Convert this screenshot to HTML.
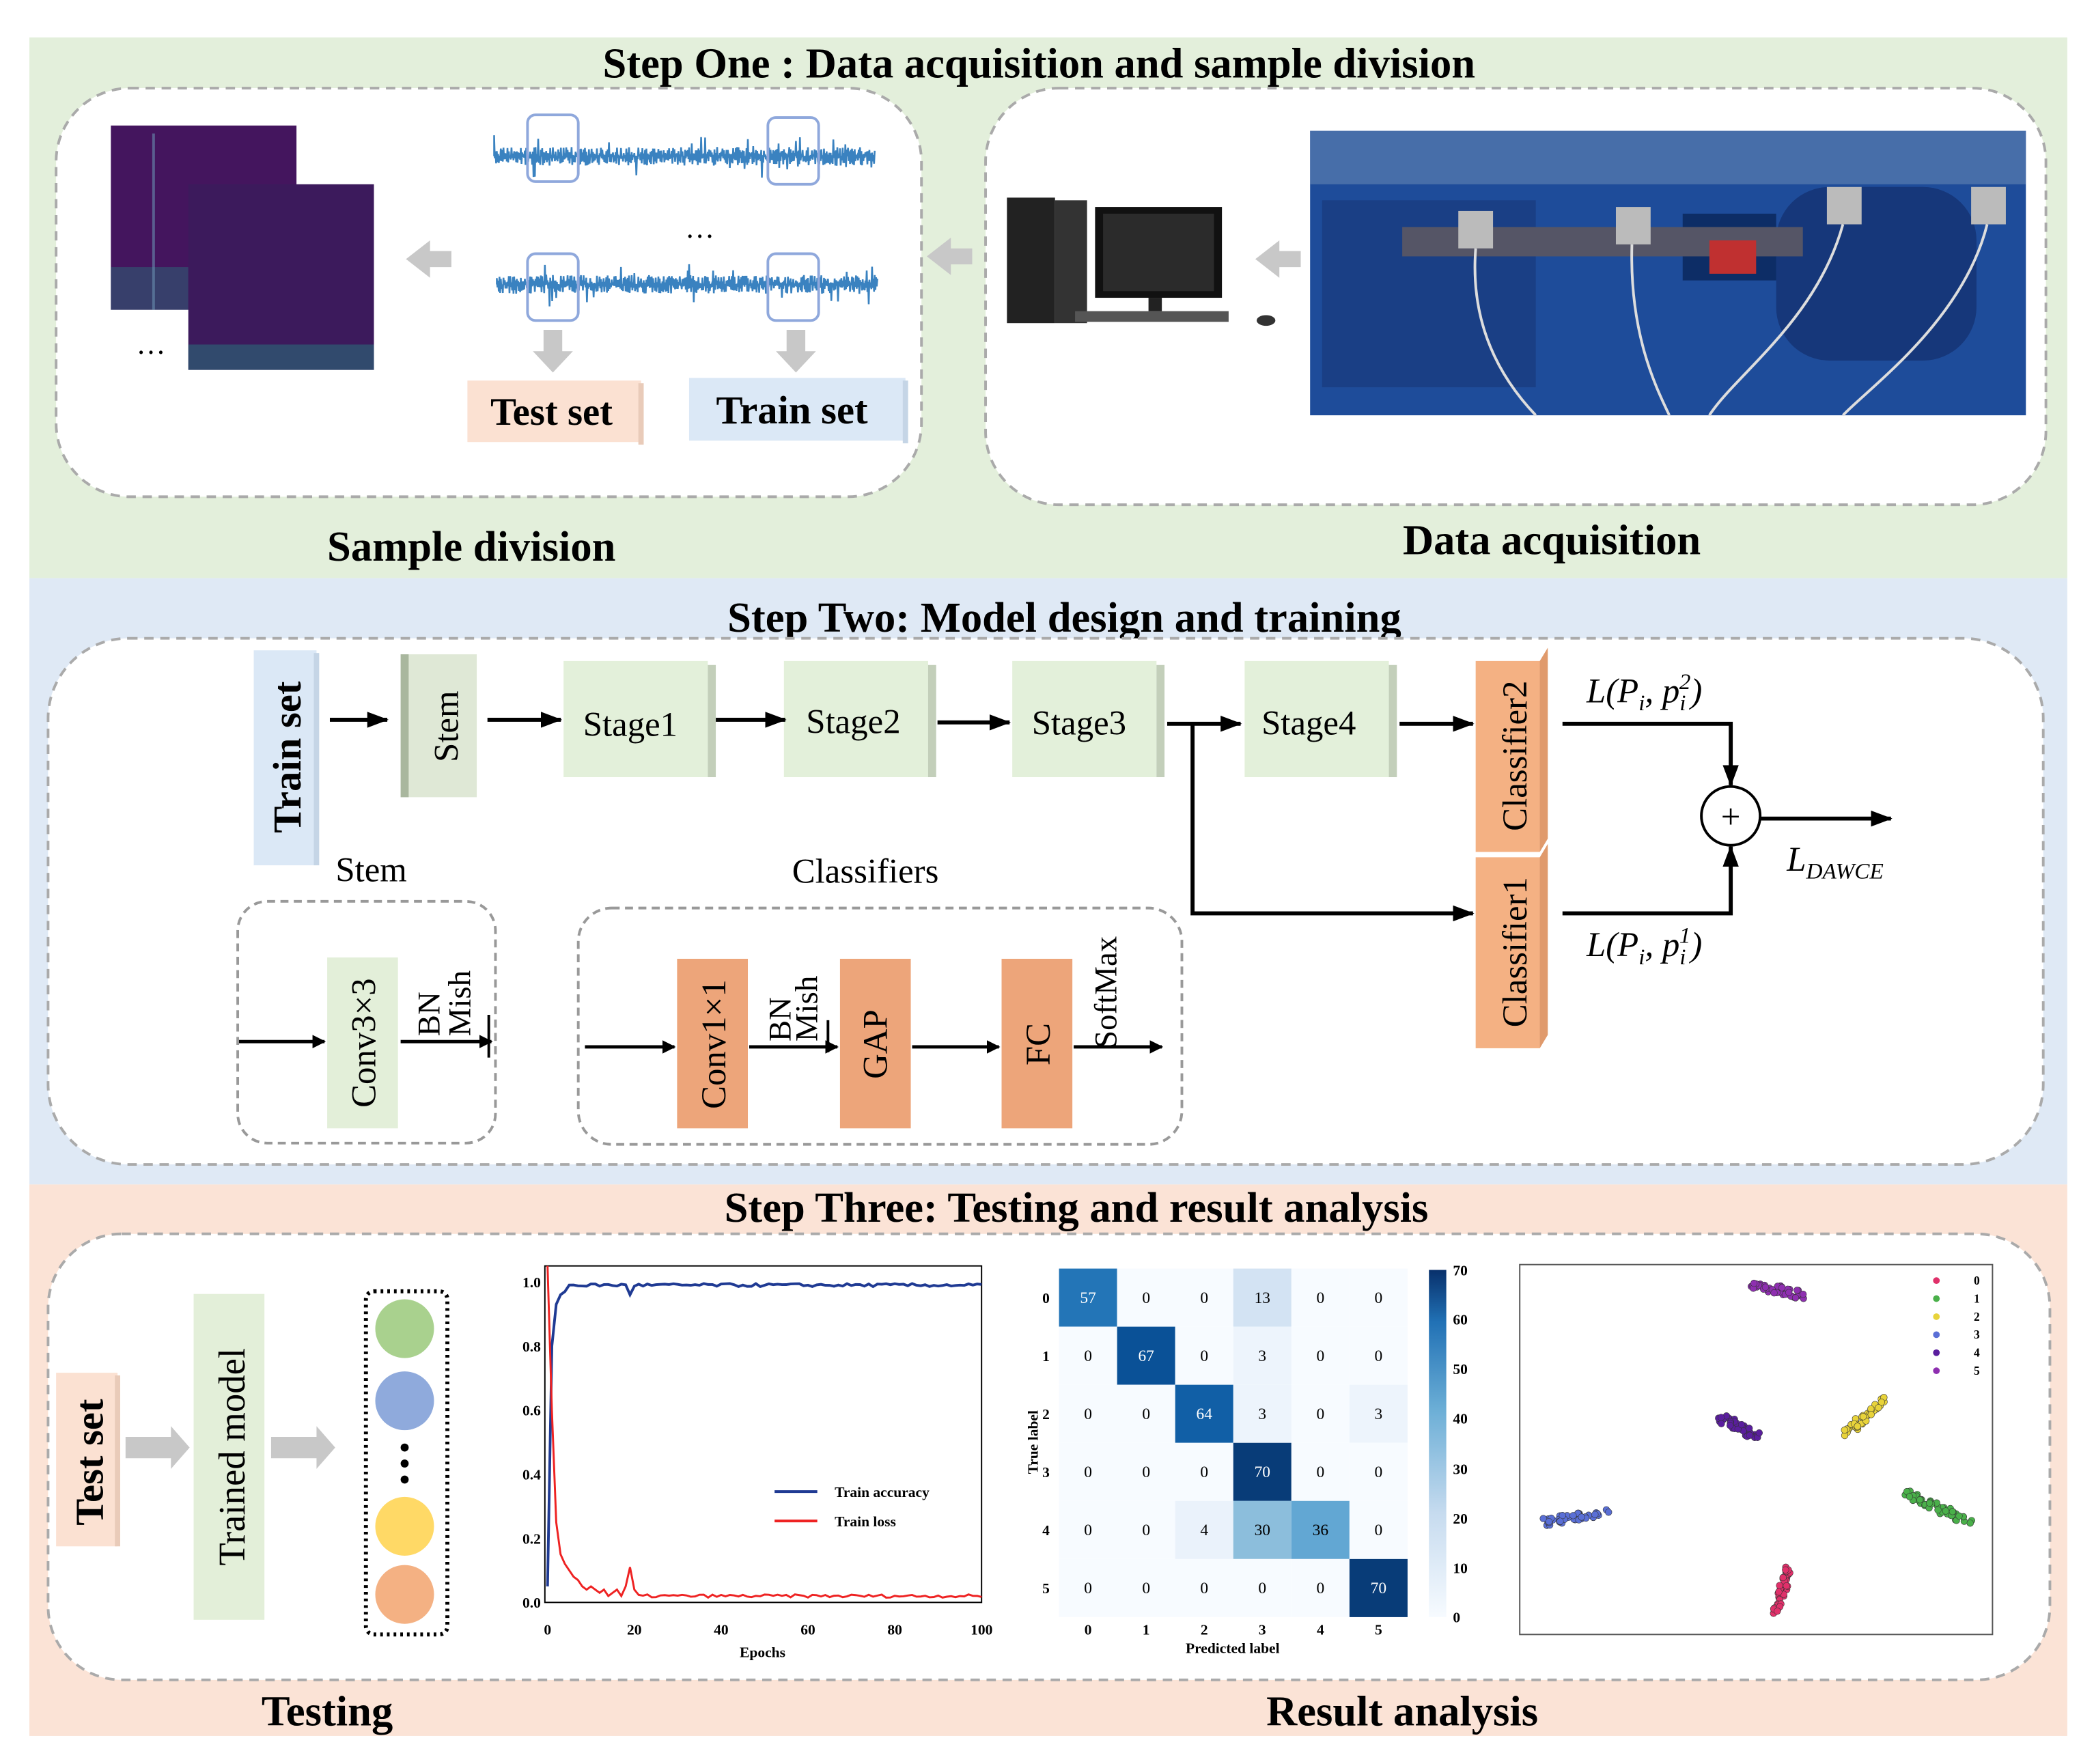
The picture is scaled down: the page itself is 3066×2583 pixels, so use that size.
<!DOCTYPE html>
<html><head><meta charset="utf-8"><style>
html,body{margin:0;padding:0;background:#fff;width:3066px;height:2583px;overflow:hidden}
svg{display:block}
text{font-family:"Liberation Serif",serif}
.t{font-weight:bold;font-size:32px;text-anchor:middle}
.m{font-size:26px;text-anchor:middle}
.s{font-family:"Liberation Serif",serif;font-size:11px;font-weight:bold}
</style></head><body>
<svg id="s" width="3066" height="2583" viewBox="0 0 1568 1321" xmlns="http://www.w3.org/2000/svg">
<defs>
<marker id="a" markerWidth="10" markerHeight="10" refX="9" refY="5" orient="auto" markerUnits="userSpaceOnUse"><path d="M0,0 L10,5 L0,10 z" fill="#000"/></marker>
<marker id="a2" markerWidth="16" markerHeight="12" refX="15" refY="6" orient="auto" markerUnits="userSpaceOnUse"><path d="M0,0 L16,6 L0,12 z" fill="#000"/></marker>
</defs>
<rect x="22" y="28" width="1526" height="405" fill="#e3efdb"/>
<rect x="22" y="433" width="1526" height="454" fill="#dfe9f5"/>
<rect x="22" y="887" width="1526" height="413" fill="#fbe3d6"/>

<text class="t" x="778" y="58">Step One : Data acquisition and sample division</text>
<rect x="42" y="66" width="648" height="306" rx="55" fill="#fff" stroke="#aaa" stroke-width="2" stroke-dasharray="7,5"/>
<rect x="738" y="66" width="794" height="312" rx="55" fill="#fff" stroke="#aaa" stroke-width="2" stroke-dasharray="7,5"/>
<text class="t" x="353" y="420">Sample division</text>
<text class="t" x="1162" y="415">Data acquisition</text>

<rect x="83" y="94" width="139" height="138" fill="#44155e"/>
<rect x="83" y="200" width="58" height="32" fill="#2a6a78" opacity=".5"/>
<line x1="115" y1="100" x2="115" y2="232" stroke="#6a8fb0" stroke-width="2" opacity=".6"/>
<rect x="141" y="138" width="139" height="139" fill="#3c1a5c"/>
<rect x="141" y="258" width="139" height="19" fill="#2a6a78" opacity=".6"/>
<text x="113" y="265" font-size="22" text-anchor="middle">…</text>
<path d="M304,194 l18,-14 v8 h16 v12 h-16 v8 z" fill="#c8c8c8"/>
<path d="M694,192 l18,-14 v8 h16 v12 h-16 v8 z" fill="#c8c8c8"/>
<path d="M940,194 l18,-14 v8 h16 v12 h-16 v8 z" fill="#c8c8c8"/>

<g id="w1"></g>
<rect x="395" y="86" width="38" height="50" rx="6" fill="none" stroke="#8fa8dc" stroke-width="2"/>
<rect x="575" y="88" width="38" height="50" rx="6" fill="none" stroke="#8fa8dc" stroke-width="2"/>
<text x="524" y="178" font-size="22" text-anchor="middle">…</text>
<rect x="395" y="190" width="38" height="50" rx="6" fill="none" stroke="#8fa8dc" stroke-width="2"/>
<rect x="575" y="190" width="38" height="50" rx="6" fill="none" stroke="#8fa8dc" stroke-width="2"/>
<path d="M407,247 h14 v16 h8 l-15,16 l-15,-16 h8 z" fill="#c8c8c8"/>
<path d="M589,247 h14 v16 h8 l-15,16 l-15,-16 h8 z" fill="#c8c8c8"/>
<rect x="350" y="285" width="130" height="46" fill="#fbe1d2"/><rect x="478" y="287" width="4" height="46" fill="#e9cbb9"/>
<text x="413" y="318" font-size="29" font-weight="bold" text-anchor="middle">Test set</text>
<rect x="516" y="283" width="162" height="47" fill="#dbe8f6"/><rect x="676" y="285" width="4" height="47" fill="#c5d5e6"/>
<text x="593" y="317" font-size="30" font-weight="bold" text-anchor="middle">Train set</text>

<rect x="754" y="148" width="36" height="94" fill="#222"/><rect x="790" y="150" width="24" height="92" fill="#333"/>
<rect x="820" y="155" width="95" height="68" fill="#111"/><rect x="826" y="160" width="83" height="58" fill="#2b2b2b"/>
<rect x="860" y="223" width="10" height="10" fill="#222"/><rect x="805" y="233" width="115" height="8" fill="#555"/>
<ellipse cx="948" cy="240" rx="7" ry="4" fill="#333"/>
<rect x="981" y="98" width="536" height="213" fill="#1e4c9a"/>
<rect x="981" y="98" width="536" height="40" fill="#6f8fb8" opacity=".5"/>
<rect x="990" y="150" width="160" height="140" fill="#1a3f85"/>
<rect x="1330" y="140" width="150" height="130" rx="40" fill="#16377a"/>
<rect x="1260" y="160" width="70" height="50" fill="#0d2d66"/>
<rect x="1050" y="170" width="300" height="22" fill="#556"/>
<rect x="1092" y="158" width="26" height="28" fill="#bbb"/><rect x="1210" y="155" width="26" height="28" fill="#bbb"/>
<rect x="1368" y="140" width="26" height="28" fill="#bbb"/><rect x="1476" y="140" width="26" height="28" fill="#bbb"/>
<rect x="1280" y="180" width="35" height="25" fill="#c03030"/>
<path d="M1105,186 C1100,250 1130,290 1150,311 M1222,183 C1220,250 1240,290 1250,311 M1380,168 C1360,240 1300,280 1280,311 M1488,168 C1470,240 1400,290 1380,311" stroke="#ddd" stroke-width="2" fill="none"/>

<text class="t" x="797" y="473">Step Two: Model design and training</text>
<rect x="36" y="478" width="1494" height="394" rx="60" fill="#fff" stroke="#aaa" stroke-width="2" stroke-dasharray="7,5"/>
<rect x="190" y="487" width="47" height="161" fill="#dbe8f6"/><rect x="235" y="489" width="4" height="159" fill="#c5d5e6"/>
<text transform="translate(225,567) rotate(-90)" font-size="30" font-weight="bold" text-anchor="middle">Train set</text>
<rect x="300" y="490" width="57" height="107" fill="#dfe8d6"/><rect x="300" y="490" width="6" height="107" fill="#a9b79e"/>
<text transform="translate(343,544) rotate(-90)" class="m">Stem</text>
<g fill="#e3f0da">
<rect x="422" y="495" width="108" height="87"/><rect x="587" y="495" width="108" height="87"/><rect x="758" y="495" width="108" height="87"/><rect x="932" y="495" width="108" height="87"/></g>
<g fill="#c3cfba"><rect x="530" y="498" width="6" height="84"/><rect x="695" y="498" width="6" height="84"/><rect x="866" y="498" width="6" height="84"/><rect x="1040" y="498" width="6" height="84"/></g>
<text class="m" x="472" y="551">Stage1</text><text class="m" x="639" y="549">Stage2</text><text class="m" x="808" y="550">Stage3</text><text class="m" x="980" y="550">Stage4</text>
<rect x="1105" y="495" width="48" height="143" fill="#f4b183"/><path d="M1153,495 l6,-10 v143 l-6,10z" fill="#e09a6c"/>
<rect x="1105" y="642" width="48" height="143" fill="#f4b183"/><path d="M1153,642 l6,-10 v143 l-6,10z" fill="#e09a6c"/>
<text transform="translate(1143,566) rotate(-90)" class="m">Classifier2</text>
<text transform="translate(1143,713) rotate(-90)" class="m">Classifier1</text>
<g stroke="#000" stroke-width="3" fill="none" marker-end="url(#a2)">
<line x1="247" y1="539" x2="290" y2="539"/><line x1="365" y1="539" x2="420" y2="539"/><line x1="536" y1="539" x2="588" y2="539"/>
<line x1="702" y1="541" x2="756" y2="541"/><line x1="874" y1="542" x2="929" y2="542"/><line x1="1048" y1="542" x2="1103" y2="542"/>
<polyline points="893,542 893,684 1103,684"/>
<polyline points="1170,542 1296,542 1296,588"/><polyline points="1170,684 1296,684 1296,634"/>
<line x1="1318" y1="613" x2="1416" y2="613"/>
</g>
<circle cx="1296" cy="611" r="22" fill="#fff" stroke="#000" stroke-width="2"/>
<text x="1296" y="620" font-size="26" text-anchor="middle">+</text>
<text x="1188" y="526" font-size="26" font-style="italic">L(P<tspan font-size="17" dy="6">i</tspan><tspan dy="-6">, p</tspan><tspan font-size="17" dy="6">i</tspan><tspan font-size="17" dy="-16" dx="-5">2</tspan><tspan dy="10">)</tspan></text>
<text x="1188" y="716" font-size="26" font-style="italic">L(P<tspan font-size="17" dy="6">i</tspan><tspan dy="-6">, p</tspan><tspan font-size="17" dy="6">i</tspan><tspan font-size="17" dy="-16" dx="-5">1</tspan><tspan dy="10">)</tspan></text>
<text x="1338" y="652" font-size="26" font-style="italic">L<tspan font-size="17" dy="6">DAWCE</tspan></text>

<text class="m" x="278" y="660">Stem</text><text class="m" x="648" y="661">Classifiers</text>
<rect x="178" y="675" width="193" height="181" rx="22" fill="none" stroke="#999" stroke-width="2" stroke-dasharray="6,4"/>
<rect x="433" y="680" width="452" height="177" rx="25" fill="none" stroke="#999" stroke-width="2" stroke-dasharray="6,4"/>
<rect x="245" y="717" width="53" height="128" fill="#e3efd9"/>
<text transform="translate(281,781) rotate(-90)" class="m">Conv3×3</text>
<rect x="507" y="718" width="53" height="127" fill="#eda57a"/><rect x="629" y="718" width="53" height="127" fill="#eda57a"/><rect x="750" y="718" width="53" height="127" fill="#eda57a"/>
<text transform="translate(543,782) rotate(-90)" class="m">Conv1×1</text>
<text transform="translate(664,782) rotate(-90)" class="m">GAP</text>
<text transform="translate(786,782) rotate(-90)" class="m">FC</text>
<text transform="translate(329,776) rotate(-90)" font-size="24">BN</text>
<text transform="translate(352,776) rotate(-90)" font-size="24">Mish</text>
<text transform="translate(592,780) rotate(-90)" font-size="24">BN</text>
<text transform="translate(612,780) rotate(-90)" font-size="24">Mish</text>
<text transform="translate(836,785) rotate(-90)" font-size="24">SoftMax</text>
<g stroke="#000" stroke-width="2.5" marker-end="url(#a)">
<line x1="179" y1="780" x2="243" y2="780"/><line x1="300" y1="780" x2="368" y2="780"/>
<line x1="438" y1="784" x2="505" y2="784"/><line x1="561" y1="784" x2="627" y2="784"/><line x1="683" y1="784" x2="748" y2="784"/><line x1="804" y1="784" x2="870" y2="784"/></g>
<line x1="366" y1="760" x2="366" y2="792" stroke="#000" stroke-width="2"/>
<line x1="620" y1="764" x2="620" y2="788" stroke="#000" stroke-width="2"/>

<text class="t" x="806" y="915">Step Three: Testing and result analysis</text>
<rect x="36" y="924" width="1499" height="334" rx="55" fill="#fff" stroke="#aaa" stroke-width="2" stroke-dasharray="7,5"/>
<text class="t" x="245" y="1292">Testing</text><text class="t" x="1050" y="1292">Result analysis</text>
<rect x="42" y="1028" width="46" height="130" fill="#fbe1d2"/><rect x="86" y="1030" width="4" height="128" fill="#e9cbb9"/>
<text transform="translate(77,1095) rotate(-90)" font-size="30" font-weight="bold" text-anchor="middle">Test set</text>
<rect x="145" y="969" width="53" height="244" fill="#e3efd9"/>
<text transform="translate(183,1091) rotate(-90)" font-size="28" text-anchor="middle">Trained model</text>
<path d="M94,1076 h34 v-8 l14,16 l-14,16 v-8 h-34z" fill="#c8c8c8"/>
<path d="M203,1076 h34 v-8 l14,16 l-14,16 v-8 h-34z" fill="#c8c8c8"/>
<rect x="274" y="967" width="61" height="257" rx="6" fill="#fff" stroke="#000" stroke-width="3" stroke-dasharray="2,3"/>
<circle cx="303" cy="995" r="22" fill="#a9d18e"/><circle cx="303" cy="1049" r="22" fill="#8faadc"/>
<circle cx="303" cy="1143" r="22" fill="#ffd966"/><circle cx="303" cy="1194" r="22" fill="#f4b183"/>
<circle cx="303" cy="1084" r="3"/><circle cx="303" cy="1096" r="3"/><circle cx="303" cy="1108" r="3"/>

<rect x="408" y="948" width="327" height="252" fill="#fff" stroke="#000" stroke-width="1"/>
<g id="plot"></g>
<g class="s" id="pax"></g>
<text x="625" y="1121" class="s" font-size="12.5">Train accuracy</text><text x="625" y="1143" class="s" font-size="12.5">Train loss</text>
<line x1="580" y1="1117" x2="612" y2="1117" stroke="#1f3a93" stroke-width="2"/><line x1="580" y1="1139" x2="612" y2="1139" stroke="#e22" stroke-width="2"/>
<text x="571" y="1241" class="s" font-size="13" text-anchor="middle">Epochs</text>

<g id="cm"></g>
<text x="923" y="1238" class="s" text-anchor="middle">Predicted label</text>
<text transform="translate(777,1080) rotate(-90)" class="s" text-anchor="middle">True label</text>
<defs><linearGradient id="cb" x1="0" y1="1" x2="0" y2="0"><stop offset="0" stop-color="#f7fbff"/><stop offset=".3" stop-color="#c6dbef"/><stop offset=".6" stop-color="#6baed6"/><stop offset=".85" stop-color="#2171b5"/><stop offset="1" stop-color="#08306b"/></linearGradient></defs>
<rect x="1070" y="951" width="13" height="260" fill="url(#cb)"/>
<g class="s" font-weight="normal" font-size="10">
<text x="1088" y="955">70</text><text x="1088" y="992">60</text><text x="1088" y="1029">50</text><text x="1088" y="1066">40</text><text x="1088" y="1104">30</text><text x="1088" y="1141">20</text><text x="1088" y="1178">10</text><text x="1088" y="1215">0</text></g>

<rect x="1138" y="947" width="354" height="277" fill="#fff" stroke="#555" stroke-width="1"/>
<g id="ts"></g>
</svg>
<script>
var NS="http://www.w3.org/2000/svg";
function el(p,t,a){var e=document.createElementNS(NS,t);for(var k in a)e.setAttribute(k,a[k]);p.appendChild(e);return e;}
var seed=7;function r(){seed=(seed*16807)%2147483647;return seed/2147483647;}
var w=document.getElementById("w1");
[[117,370,655],[213,372,657]].forEach(function(c){var d="M"+c[1]+","+c[0];var s=1;for(var x=c[1];x<=c[2];x+=0.5){var amp=7+(r()<0.06?10:0);s=-s;d+=" L"+x.toFixed(1)+","+(c[0]+s*r()*amp).toFixed(1);}el(w,"path",{d:d,stroke:"#3a82c0","stroke-width":1.3,fill:"none"});});
var p=document.getElementById("plot");
function X(e){return 410+e*3.25;}function Y(v){return 1200-v*240;}
var d="M"+X(0)+","+Y(0.05);var pts=[0.05,0.8,0.93,0.96,0.97];for(var e=0;e<=100;e++){var v=e<5?pts[e]:0.99+ (r()-0.5)*0.01;if(e==19)v=0.96;d+=" L"+X(e)+","+Y(v);}
el(p,"path",{d:d,stroke:"#1f3a93","stroke-width":2,fill:"none"});
d="M"+X(0)+","+Y(1.05);var lp=[1.05,0.6,0.25,0.15,0.12,0.1,0.08,0.07,0.05,0.04,0.05,0.04,0.03,0.04,0.02,0.03,0.04,0.02,0.05,0.11,0.04];for(e=1;e<=100;e++){var v=e<lp.length?lp[e]:0.015+r()*0.01;d+=" L"+X(e)+","+Y(v);}
el(p,"path",{d:d,stroke:"#e22","stroke-width":1.5,fill:"none"});
var ax=document.getElementById("pax");
for(var i=0;i<=5;i++){var t=el(ax,"text",{x:405,y:Y(i*0.2)+4,"text-anchor":"end"});t.textContent=(i*0.2).toFixed(1);}
for(i=0;i<=5;i++){var t=el(ax,"text",{x:X(i*20),y:1224,"text-anchor":"middle"});t.textContent=i*20;}
var M=[[57,0,0,13,0,0],[0,67,0,3,0,0],[0,0,64,3,0,3],[0,0,0,70,0,0],[0,0,4,30,36,0],[0,0,0,0,0,70]];
function col(v){var f=v/70;var s=[[0,[247,251,255]],[0.05,[235,243,251]],[0.2,[208,225,242]],[0.43,[140,190,220]],[0.51,[99,168,211]],[0.81,[36,118,184]],[0.91,[18,96,168]],[0.96,[10,80,150]],[1,[8,60,120]]];for(var i=1;i<s.length;i++)if(f<=s[i][0]){var a=s[i-1],b=s[i],k=(f-a[0])/(b[0]-a[0]);return "rgb("+[0,1,2].map(function(j){return Math.round(a[1][j]+(b[1][j]-a[1][j])*k)}).join(",")+")";}}
var cm=document.getElementById("cm");var cw=43.5;
for(i=0;i<6;i++)for(var j=0;j<6;j++){var v=M[i][j];el(cm,"rect",{x:793+j*cw,y:950+i*cw,width:cw,height:cw,fill:col(v)});var t=el(cm,"text",{x:793+j*cw+cw/2,y:950+i*cw+cw/2+4,"text-anchor":"middle","font-size":12,fill:v>40?"#fff":"#000","font-family":"Liberation Serif"});t.textContent=v;}
for(i=0;i<6;i++){var t=el(cm,"text",{x:793+i*cw+cw/2,y:1224,"text-anchor":"middle","font-size":11,"font-weight":"bold","font-family":"Liberation Serif"});t.textContent=i;t=el(cm,"text",{x:786,y:950+i*cw+cw/2+4,"text-anchor":"end","font-size":11,"font-weight":"bold","font-family":"Liberation Serif"});t.textContent=i;}
var ts=document.getElementById("ts");
var cl=[["#5a6fd6",[[1155,1140],[1205,1133]]],["#8e2fb0",[[1312,962],[1350,970]]],["#e8d33a",[[1380,1075],[1412,1048]]],["#4ab04a",[[1428,1118],[1475,1140]]],["#e0306a",[[1330,1208],[1340,1172]]],["#5a1e9e",[[1288,1062],[1318,1076]]]];
cl.forEach(function(c){var a=c[1][0],b=c[1][1];for(var k=0;k<45;k++){var f=r();el(ts,"circle",{cx:a[0]+(b[0]-a[0])*f+(r()-0.5)*6,cy:a[1]+(b[1]-a[1])*f+(r()-0.5)*6,r:2.5,fill:c[0],stroke:"#333","stroke-width":0.3});}});
["#e0306a","#4ab04a","#e8d33a","#5a6fd6","#5a1e9e","#8e2fb0"].forEach(function(c,i){el(ts,"circle",{cx:1450,cy:959+i*13.5,r:2.5,fill:c});var t=el(ts,"text",{x:1478,y:962+i*13.5,"font-size":9,"font-weight":"bold","font-family":"Liberation Serif"});t.textContent=i;});
</script>
</body></html>
